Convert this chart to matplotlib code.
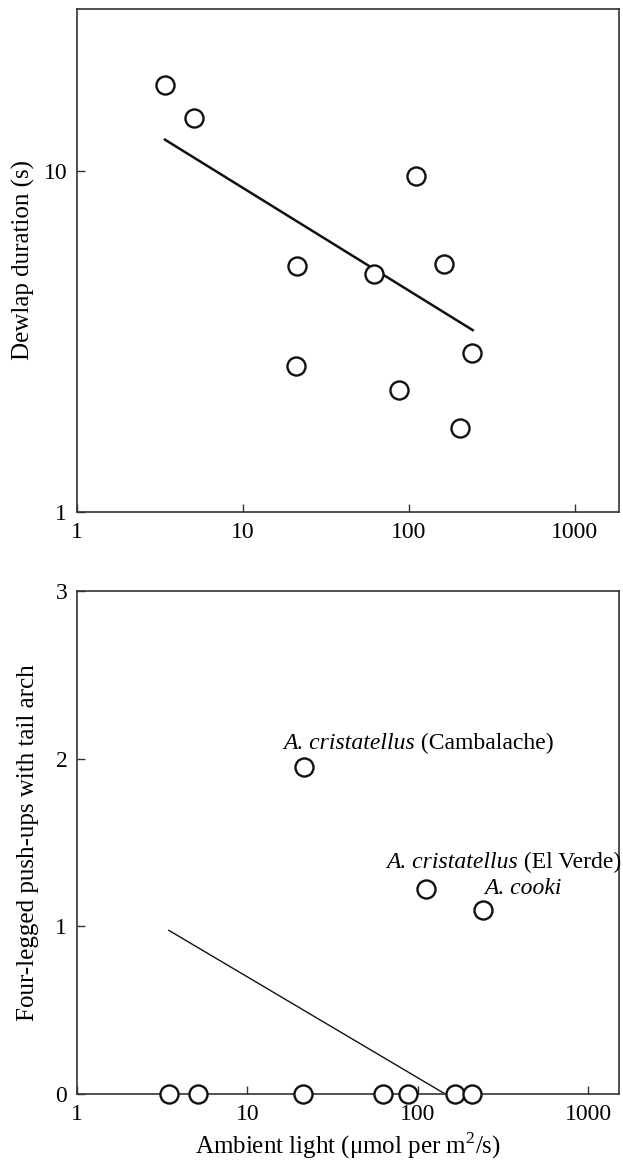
import matplotlib
matplotlib.use("Agg")
import matplotlib.pyplot as plt

plt.rcParams['font.family'] = ['Liberation Serif', 'DejaVu Serif']
plt.rcParams['mathtext.fontset'] = 'custom'
plt.rcParams['mathtext.rm'] = 'Liberation Serif'

# Top panel: dewlap duration vs ambient light
light_top = [3.39, 5.07, 111, 21.2, 61.4, 163, 240, 20.9, 87.9, 204]
dewlap = [17.9, 14.4, 9.69, 5.29, 5.0, 5.36, 2.94, 2.68, 2.28, 1.77]
fit_top_x = [3.39, 243]
fit_top_y = [12.4, 3.42]

# Bottom panel: four-legged push-ups vs ambient light
light_bot = [21.4, 112, 243, 3.46, 5.1, 21.2, 62.2, 87.9, 166, 207]
pushups = [1.95, 1.22, 1.10, 0, 0, 0, 0, 0, 0, 0]
fit_bot_x = [3.46, 145]
fit_bot_y = [0.976, 0.0]

labels = [
    (16.2, 2.06, "A. cristatellus", " (Cambalache)"),
    (65.6, 1.35, "A. cristatellus", " (El Verde)"),
    (246, 1.19, "A. cooki", ""),
]

fig = plt.figure(figsize=(6.23, 11.61), dpi=100)
ax1 = fig.add_axes([77/623, 1-512/1161, 542/623, 503/1161])
ax2 = fig.add_axes([77/623, 1-1094/1161, 542/623, 503/1161])

mk = dict(marker='o', markersize=13, markerfacecolor='white',
          markeredgecolor='#111111', markeredgewidth=1.7, linestyle='none')

# top
ax1.plot(fit_top_x, fit_top_y, color='#111111', linewidth=1.8)
ax1.plot(light_top, dewlap, **mk)
ax1.set_xscale('log')
ax1.set_yscale('log')
ax1.set_xlim(1, 1850)
ax1.set_ylim(1, 30)
ax1.set_xticks([1, 10, 100, 1000])
ax1.set_xticklabels(['1', '10', '100', '1000'])
ax1.set_yticks([1, 10])
ax1.set_yticklabels(['1', '10'])
ax1.minorticks_off()
ax1.set_ylabel('Dewlap duration (s)', fontsize=18, labelpad=6)

# bottom
ax2.plot(fit_bot_x, fit_bot_y, color='#111111', linewidth=1.0)
ax2.plot(light_bot, pushups, clip_on=False, zorder=5, **mk)
ax2.set_xscale('log')
ax2.set_xlim(1, 1520)
ax2.set_ylim(0, 3)
ax2.set_xticks([1, 10, 100, 1000])
ax2.set_xticklabels(['1', '10', '100', '1000'])
ax2.set_yticks([0, 1, 2, 3])
ax2.minorticks_off()
ax2.set_ylabel('Four-legged push-ups with tail arch', fontsize=18, labelpad=12)
ax2.set_xlabel('Ambient light (μmol per m$^2$/s)', fontsize=18, labelpad=4)

for x, y, sp, site in labels:
    t = ax2.text(x, y, sp, fontsize=17, style='italic', ha='left', va='baseline')
    if site:
        ax2.annotate(site, xycoords=t, xy=(1, 0), va='bottom', ha='left',
                     fontsize=17)

for ax in (ax1, ax2):
    ax.tick_params(direction='in', length=6, width=1, labelsize=17, pad=7,
                   top=False, right=False, color='#333333')
    for s in ax.spines.values():
        s.set_linewidth(1.2)
        s.set_color('#333333')

fig.savefig('out.png', dpi=100)
